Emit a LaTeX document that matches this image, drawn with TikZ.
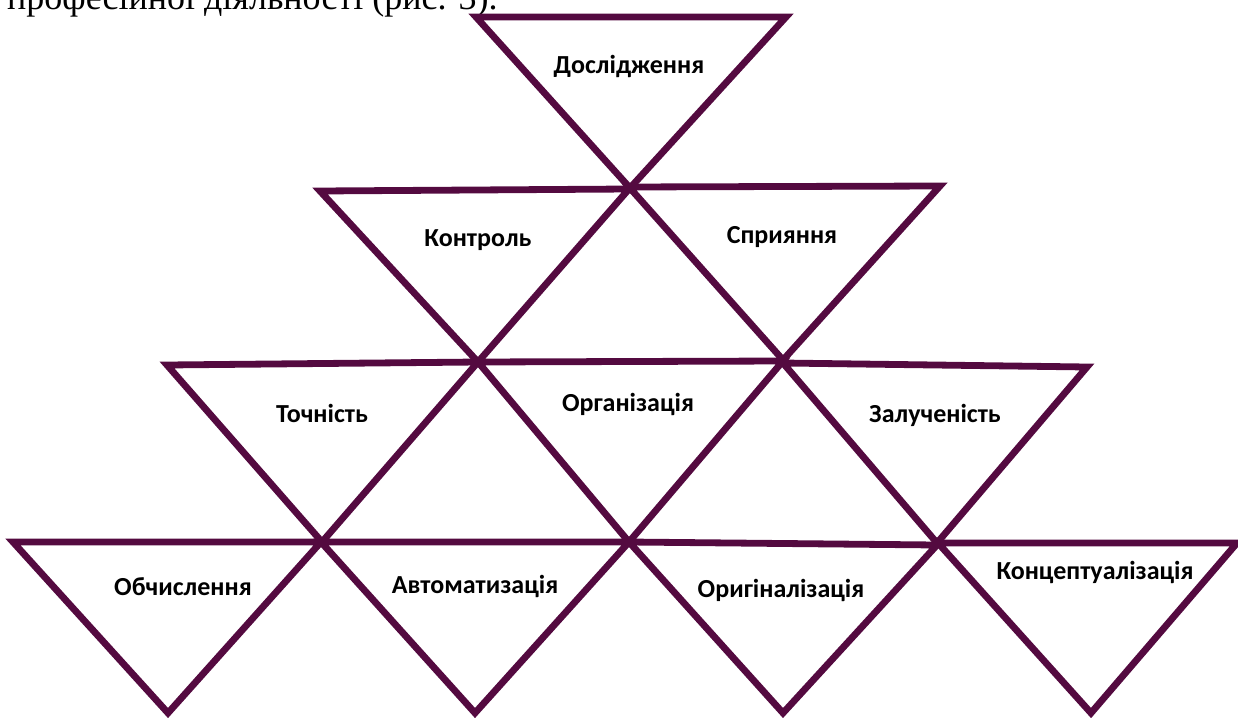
\documentclass[tikz,border=0pt]{standalone}
\usepackage{fontspec}
\setmainfont{Carlito}
\newfontfamily\serifcap{Liberation Serif}
\definecolor{tri}{RGB}{84,10,64}
\tikzset{
  tribox/.style={draw=tri, line width=6.8pt, line join=miter},
  lbl/.style={font=\bfseries\fontsize{26}{30}\selectfont, text=black, inner sep=0pt}
}
\begin{document}
\begin{tikzpicture}[x=1pt,y=-1pt]
\useasboundingbox (0,0) rectangle (1238,717);
\begin{scope}
\clip (0,0) rectangle (1238,717);
\node[anchor=base west, inner sep=0pt, font=\serifcap\fontsize{36}{40}\selectfont] (cap) at (7,10) {професійної діяльності (рис. 3).};
% row 1
\draw[tribox] (476,17) -- (786,17) -- (630,188) -- cycle;
% row 2
\draw[tribox] (320,191) -- (629,189) -- (478,362) -- cycle;
\draw[tribox] (629,187) -- (940,186) -- (783,360) -- cycle;
% row 3
\draw[tribox] (167,365) -- (478,362) -- (322,542) -- cycle;
\draw[tribox] (478,362) -- (783,361) -- (629,542) -- cycle;
\draw[tribox] (783,363) -- (1087,367) -- (937,543) -- cycle;
% row 4
\draw[tribox] (13,542) -- (321,542) -- (168,713) -- cycle;
\draw[tribox] (321,542) -- (629,542) -- (475,713) -- cycle;
\draw[tribox] (629,542) -- (937,545) -- (783,713) -- cycle;
\draw[tribox] (938,543) -- (1237,543) -- (1091,713) -- cycle;
\end{scope}
\node[lbl] (d) at (629,66) {Дослідження};
\node[lbl] (k) at (478,240) {Контроль};
\node[lbl] (s) at (782,237) {Сприяння};
\node[lbl] (t) at (322,413) {Точність};
\node[lbl] (o) at (628,404) {Організація};
\node[lbl] (z) at (935,415) {Залученість};
\node[lbl] (ob) at (183,587) {Обчислення};
\node[lbl] (a) at (475,586) {Автоматизація};
\node[lbl] (or) at (781,590) {Оригіналізація};
\node[lbl] (kc) at (1095,572) {Концептуалізація};
\end{tikzpicture}
\end{document}
